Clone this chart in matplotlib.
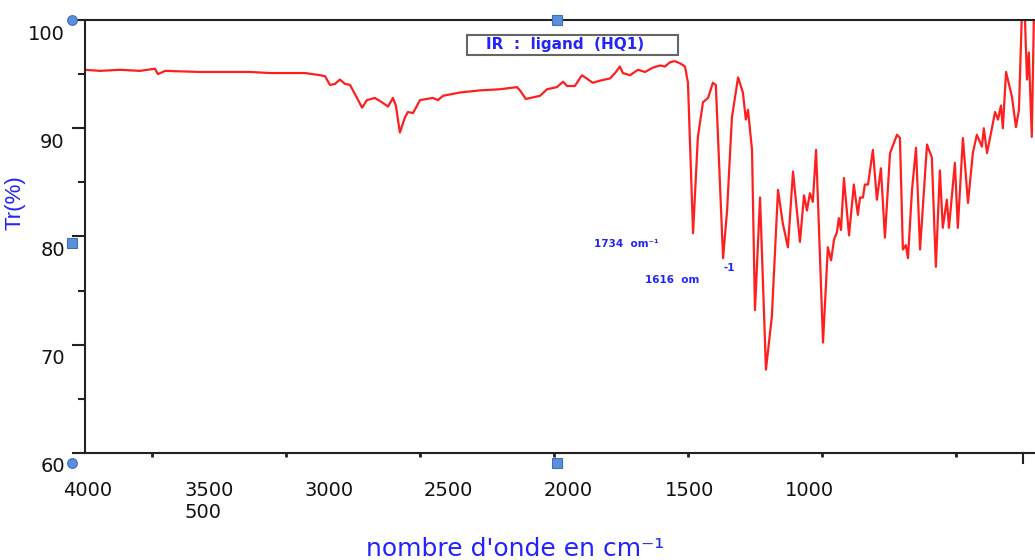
import numpy as np
import matplotlib
matplotlib.use("Agg")
import matplotlib.pyplot as plt
import matplotlib.transforms as mtransforms
from matplotlib.patches import Rectangle

# IR spectrum of the ligand (HQ1)
wavenumber = [4000, 3944, 3869, 3795, 3739, 3728, 3701, 3571, 3478, 3384,
              3310, 3235, 3179, 3123, 3104, 3086, 3067, 3049, 3030, 3011,
              2985, 2966, 2948, 2918, 2892, 2869, 2851, 2840, 2825, 2806,
              2795, 2776, 2750, 2702, 2683, 2664, 2601, 2526, 2452, 2388,
              2377, 2355, 2302, 2276, 2239, 2216, 2201, 2172, 2146, 2105,
              2078, 2041, 2022, 2004, 1993, 1966, 1937, 1910, 1881, 1854,
              1836, 1817, 1799, 1780, 1761, 1750, 1731, 1713, 1694, 1675,
              1657, 1646, 1619, 1604, 1586, 1563, 1545, 1534, 1526, 1511,
              1500, 1481, 1459, 1437, 1414, 1396, 1377, 1358, 1332, 1317,
              1306, 1295, 1284, 1272, 1265, 1246, 1228, 1216, 1205, 1194,
              1187, 1179, 1168, 1149, 1131, 1116, 1108, 1097, 1090, 1078,
              1060, 1045, 1030, 1015, 996, 970, 959, 948, 937, 929,
              914, 899, 884, 858, 840, 825, 810, 799, 784, 776,
              754, 743, 724, 705, 687, 672, 653, 646, 634, 623,
              604, 593, 582, 575, 563, 541, 526, 515, 504, 493,
              485, 478, 467, 459]
transmittance = [95.4, 95.3, 95.4, 95.3, 95.5, 95.0, 95.3, 95.2, 95.2, 95.2,
                 95.1, 95.1, 95.1, 94.9, 94.8, 94.0, 94.1, 94.5, 94.1, 94.0,
                 92.8, 91.9, 92.6, 92.8, 92.4, 92.0, 92.8, 92.1, 89.6, 91.0,
                 91.5, 91.4, 92.6, 92.8, 92.6, 93.0, 93.3, 93.5, 93.6, 93.8,
                 93.5, 92.7, 93.0, 93.6, 93.8, 94.3, 93.9, 93.9, 94.9, 94.2,
                 94.4, 94.6, 95.1, 95.7, 95.1, 94.9, 95.4, 95.2, 95.6, 95.8,
                 95.7, 96.1, 96.2, 96.0, 95.7, 94.2, 80.3, 89.2, 92.4, 92.8,
                 94.2, 94.0, 78.0, 82.4, 91.0, 94.7, 93.3, 90.8, 91.7, 88.0,
                 73.2, 83.6, 67.7, 72.6, 84.3, 81.2, 79.0, 86.0, 79.5, 83.8,
                 82.4, 84.0, 83.2, 88.0, 83.4, 70.2, 79.0, 77.8, 79.7, 80.4,
                 81.7, 80.6, 85.4, 80.1, 84.8, 82.0, 83.6, 83.6, 84.8, 84.8,
                 88.0, 83.4, 86.3, 79.9, 87.7, 89.4, 89.1, 78.8, 79.2, 78.0,
                 84.3, 88.2, 78.8, 88.5, 87.3, 77.2, 86.1, 80.8, 83.4, 80.8,
                 86.8, 80.8, 89.1, 83.1, 87.7, 89.4, 88.3, 90.0, 87.7, 89.1,
                 91.5, 90.8, 92.1, 90.0, 95.2, 92.9, 90.1, 91.7, 100.5, 100.5,
                 94.5, 97.0, 89.2, 100.5]

# axis labels as they sit on the picture
xlabel_pos = [3990, 3537, 3090, 2646, 2198, 1743, 1295]
xlabel_txt = ["4000", "3500\n500", "3000", "2500", "2000", "1500", "1000"]
xtick_pos = [3750, 3250, 2750, 2250, 1750, 1250, 750]
yticks = [60, 70, 80, 90, 100]
yminor = [65, 75, 85, 95]

BLUE = "#2323ff"
DARK = "#222222"

fig = plt.figure(figsize=(10.35, 5.6), dpi=100)
ax = fig.add_axes([85 / 1035, 1 - 453 / 560, 950 / 1035, 433 / 560])

ax.plot(wavenumber, transmittance, color="#ff1f1f", lw=1.6, solid_joinstyle="round")
ax.set_xlim(4000, 455)
ax.set_ylim(60, 100)

for side in ["left", "bottom", "top"]:
    ax.spines[side].set_color(DARK)
    ax.spines[side].set_linewidth(1.5)
ax.spines["right"].set_visible(False)

# y axis
ax.set_yticks(yticks)
ax.set_yticks(yminor, minor=True)
ax.tick_params(axis="y", which="major", length=9.5, width=1.5, color=DARK,
               pad=5, labelsize=14, labelcolor="#111111")
ax.tick_params(axis="y", which="minor", length=5, width=1.5, color=DARK)
shift = mtransforms.ScaledTranslation(0, -0.12, fig.dpi_scale_trans)
for lab in ax.get_yticklabels():
    lab.set_transform(lab.get_transform() + shift)

# x axis: labels and ticks are not aligned on the original
ax.set_xticks(xlabel_pos, xlabel_txt)
ax.set_xticks(xtick_pos, minor=True)
ax.tick_params(axis="x", which="major", length=0, pad=20, labelsize=14,
               labelcolor="#111111")
ax.tick_params(axis="x", which="minor", length=3, width=2, color=DARK)
for lab in ax.get_xticklabels():
    lab.set_verticalalignment("top")
    lab.set_multialignment("left")
blend = mtransforms.blended_transform_factory(ax.transData, ax.transAxes)
ax.plot([500, 500], [0, -0.024], transform=blend, color=DARK, lw=1.5, clip_on=False)

ax.set_ylabel("Tr(%)", color=BLUE, fontsize=16, family="Liberation Sans")
ax.yaxis.set_label_coords(-60 / 950, (453 - 203) / 433)
fig.text(515 / 1035, 1 - 556 / 560, "nombre d'onde en cm\u207b\u00b9", color=BLUE,
         fontsize=18, ha="center", va="baseline")

# legend box
fig.add_artist(Rectangle((467 / 1035, 1 - 55 / 560), 211 / 1035, 20 / 560,
                         transform=fig.transFigure, fill=False,
                         edgecolor="#666666", lw=1.5))
fig.text(565 / 1035, 1 - 45 / 560, "IR  :  ligand  (HQ1)", color=BLUE,
         fontsize=11, fontweight="bold", ha="center", va="center")

# peak annotations
fig.text(594 / 1035, 1 - 247 / 560, "1734  om\u207b\u00b9", color=BLUE, fontsize=7.5,
         fontweight="bold", va="baseline")
fig.text(645 / 1035, 1 - 283 / 560, "1616  om", color=BLUE, fontsize=7.5,
         fontweight="bold", va="baseline")
fig.text(724 / 1035, 1 - 271 / 560, "-1", color=BLUE, fontsize=7.5,
         fontweight="bold", va="baseline")

# selection handles of the embedded object
for hx, hy, mk in [(72, 20, "o"), (557, 20, "s"), (72, 243, "s"),
                   (72, 463, "o"), (557, 463, "s")]:
    fig.add_artist(plt.Line2D([hx / 1035], [1 - hy / 560], marker=mk,
                              markersize=7, color="#5b8fdb",
                              markeredgecolor="#3f6fb8", markeredgewidth=0.8,
                              transform=fig.transFigure))

fig.savefig("out.png", dpi=100)
